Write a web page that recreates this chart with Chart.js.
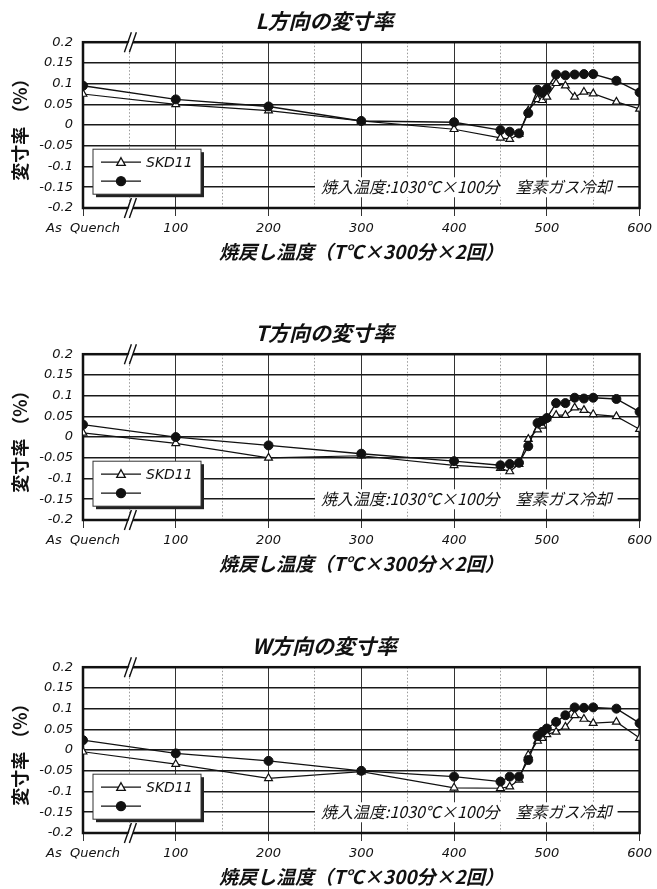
<!DOCTYPE html>
<html>
<head>
<meta charset="utf-8">
<script src="https://cdn.jsdelivr.net/npm/chart.js@4.4.1/dist/chart.umd.min.js"></script>
<style>
  html, body { margin: 0; padding: 0; background: #fff; width: 657px; height: 889px; overflow: hidden; }
  .panel { position: absolute; left: 0; width: 657px; height: 270px; }
</style>
</head>
<body>
<div class="panel" style="top:0px"><canvas id="chartL" width="657" height="270"></canvas></div>
<div class="panel" style="top:312px"><canvas id="chartT" width="657" height="270"></canvas></div>
<div class="panel" style="top:625px"><canvas id="chartW" width="657" height="270"></canvas></div>
<script>
// tempering temperature (0 = As Quench)
const temps = [0, 100, 200, 300, 400, 450, 460, 470, 480, 490, 495, 500, 510, 520, 530, 540, 550, 575, 600];

const lSkd11 = [0.075, 0.05, 0.035, 0.01, -0.01, -0.031, -0.034, -0.022, 0.035, 0.062, 0.06, 0.068, 0.101, 0.095, 0.068, 0.08, 0.076, 0.056, 0.039];
const lOther = [0.095, 0.062, 0.045, 0.01, 0.007, -0.012, -0.016, -0.02, 0.029, 0.085, 0.078, 0.088, 0.122, 0.12, 0.122, 0.123, 0.123, 0.107, 0.079];

const tSkd11 = [0.01, -0.015, -0.05, -0.045, -0.068, -0.075, -0.083, -0.065, -0.005, 0.018, 0.027, 0.045, 0.053, 0.053, 0.071, 0.065, 0.055, 0.05, 0.019];
const tOther = [0.03, 0, -0.02, -0.04, -0.058, -0.068, -0.065, -0.062, -0.022, 0.034, 0.039, 0.046, 0.082, 0.082, 0.095, 0.093, 0.095, 0.092, 0.061];

const wSkd11 = [-0.004, -0.034, -0.068, -0.052, -0.091, -0.092, -0.088, -0.072, -0.012, 0.022, 0.029, 0.038, 0.044, 0.056, 0.084, 0.075, 0.065, 0.068, 0.029];
const wOther = [0.024, -0.008, -0.026, -0.05, -0.064, -0.076, -0.064, -0.064, -0.024, 0.034, 0.044, 0.052, 0.068, 0.084, 0.103, 0.102, 0.103, 0.1, 0.065];

const titles = ['L方向の変寸率', 'T方向の変寸率', 'W方向の変寸率'];
const seriesLabels = ['SKD11', ''];
const xTickValues = [0, 100, 200, 300, 400, 500, 600];
const xTickLabels = ['As  Quench', '100', '200', '300', '400', '500', '600'];
const yMin = -0.2, yMax = 0.2, yStep = 0.05;
const xTitle = '焼戻し温度（T℃×300分×2回）';
const yTitle = '変寸率 （%）';
const noteText = '焼入温度:1030℃×100分　窒素ガス冷却';

Chart.defaults.color = '#111';
Chart.defaults.animation = false;

const latin = "'DejaVu Sans', sans-serif";
const jp = "'Noto Sans CJK JP', sans-serif";

function markerPath(ctx, style, x, y, r) {
    ctx.beginPath();
    if (style === 'triangle') {
        ctx.moveTo(x, y - r);
        ctx.lineTo(x + r * 0.95, y + r * 0.7);
        ctx.lineTo(x - r * 0.95, y + r * 0.7);
        ctx.closePath();
    } else {
        ctx.arc(x, y, r, 0, Math.PI * 2);
    }
}

const decor = {
    id: 'decor',
    beforeDatasetsDraw(chart) {
        const { ctx, chartArea: a } = chart;
        ctx.save();
        ctx.strokeStyle = '#111';
        ctx.lineWidth = 2.5;
        ctx.strokeRect(a.left, a.top, a.right - a.left, a.bottom - a.top);
        ctx.restore();
    },
    afterDatasetsDraw(chart) {
        const { ctx, chartArea: a, scales } = chart;
        ctx.save();
        // note on the -0.15 line
        const ny = scales.y.getPixelForValue(-0.15);
        ctx.font = 'italic 16px ' + jp;
        const tw = ctx.measureText(noteText).width;
        const tx = a.right - 28 - tw;
        ctx.fillStyle = '#fff';
        ctx.fillRect(tx - 6, ny - 10, tw + 12, 20);
        ctx.fillStyle = '#111';
        ctx.textBaseline = 'middle';
        ctx.fillText(noteText, tx, ny);

        // legend box
        const bx = a.left + 10, by = a.top + 107, bw = 108, bh = 45;
        ctx.fillStyle = '#222';
        ctx.fillRect(bx + 3, by + 3, bw, bh);
        ctx.fillStyle = '#fff';
        ctx.fillRect(bx, by, bw, bh);
        ctx.strokeStyle = '#333';
        ctx.lineWidth = 1;
        ctx.strokeRect(bx, by, bw, bh);
        chart.data.datasets.forEach((ds, i) => {
            const ry = by + 13 + i * 19;
            ctx.strokeStyle = '#111';
            ctx.lineWidth = 1.3;
            ctx.beginPath();
            ctx.moveTo(bx + 8, ry);
            ctx.lineTo(bx + 48, ry);
            ctx.stroke();
            markerPath(ctx, ds.pointStyle, bx + 28, ry, ds.pointRadius);
            ctx.fillStyle = ds.pointBackgroundColor;
            ctx.fill();
            ctx.stroke();
            ctx.fillStyle = '#111';
            ctx.font = 'italic 14px ' + latin;
            ctx.fillText(ds.label, bx + 53, ry + 1);
        });
        ctx.restore();
    },
    afterDraw(chart) {
        const { ctx, chartArea: a, scales } = chart;
        const px = scales.x.getPixelForValue(50);
        ctx.save();
        [a.top, a.bottom].forEach(y0 => {
            ctx.fillStyle = '#fff';
            ctx.beginPath();
            ctx.moveTo(px - 3, y0 + 5);
            ctx.lineTo(px + 2, y0 - 5);
            ctx.lineTo(px + 6, y0 - 5);
            ctx.lineTo(px + 1, y0 + 5);
            ctx.closePath();
            ctx.fill();
            ctx.strokeStyle = '#111';
            ctx.lineWidth = 1.4;
            ctx.beginPath();
            ctx.moveTo(px - 5, y0 + 10);
            ctx.lineTo(px + 2, y0 - 10);
            ctx.moveTo(px, y0 + 10);
            ctx.lineTo(px + 7, y0 - 10);
            ctx.stroke();
        });
        ctx.restore();
    }
};

function makeChart(id, title, skd, other) {
    const ctx = document.getElementById(id).getContext('2d');
    return new Chart(ctx, {
        type: 'line',
        data: {
            labels: temps,
            datasets: [
                {
                    label: seriesLabels[0],
                    data: temps.map((t, i) => ({ x: t, y: skd[i] })),
                    borderColor: '#111',
                    borderWidth: 1.2,
                    pointStyle: 'triangle',
                    pointRadius: 4.5,
                    pointBackgroundColor: '#fff',
                    pointBorderColor: '#111',
                    pointBorderWidth: 1.2,
                    tension: 0,
                    order: 2,
                },
                {
                    label: seriesLabels[1],
                    data: temps.map((t, i) => ({ x: t, y: other[i] })),
                    borderColor: '#111',
                    borderWidth: 1.4,
                    pointStyle: 'circle',
                    pointRadius: 4.5,
                    pointBackgroundColor: '#111',
                    pointBorderColor: '#111',
                    pointBorderWidth: 1,
                    tension: 0,
                    order: 1,
                },
            ],
        },
        options: {
            responsive: false,
            layout: { padding: { left: 0, right: 8, top: 0, bottom: 0 } },
            plugins: {
                legend: { display: false },
                tooltip: { enabled: false },
                title: {
                    display: true,
                    text: title,
                    color: '#111',
                    font: { family: jp, size: 21, weight: 'bold', style: 'italic' },
                    padding: { top: 8, bottom: 9 },
                },
            },
            scales: {
                x: {
                    type: 'linear',
                    min: 0,
                    max: 600,
                    afterFit: s => { s.height = 62; },
                    ticks: {
                        stepSize: 50,
                        autoSkip: false,
                        maxRotation: 0,
                        padding: 5,
                        color: '#111',
                        font: { family: latin, size: 13, style: 'italic' },
                        callback: v => {
                            const i = xTickValues.indexOf(v);
                            return i >= 0 ? xTickLabels[i] : '';
                        },
                    },
                    grid: {
                        color: c => (c.tick && c.tick.value % 100 === 0 ? '#333' : '#9a9a9a'),
                        lineWidth: 1,
                        tickLength: 8,
                        tickColor: c => (c.tick && c.tick.value % 100 === 0 ? '#333' : 'rgba(0,0,0,0)'),
                    },
                    border: {
                        display: false,
                        dash: c => (c.tick && c.tick.value % 100 !== 0 ? [1.5, 2] : []),
                    },
                    title: {
                        display: true,
                        text: xTitle,
                        color: '#111',
                        font: { family: jp, size: 19, weight: 'bold', style: 'italic' },
                        padding: { top: 0, bottom: 7 },
                    },
                },
                y: {
                    min: yMin,
                    max: yMax,
                    afterFit: s => { s.width = 83; },
                    ticks: {
                        stepSize: yStep,
                        padding: 10,
                        color: '#111',
                        font: { family: latin, size: 13, style: 'italic' },
                        callback: v => String(Math.round(v * 100) / 100),
                    },
                    grid: { color: '#1a1a1a', lineWidth: 1.6, drawTicks: false },
                    border: { display: false },
                    title: {
                        display: true,
                        text: yTitle,
                        color: '#111',
                        font: { family: jp, size: 18, weight: 'bold' },
                        padding: { top: 9, bottom: 0 },
                    },
                },
            },
        },
        plugins: [decor],
    });
}

makeChart('chartL', titles[0], lSkd11, lOther);
makeChart('chartT', titles[1], tSkd11, tOther);
makeChart('chartW', titles[2], wSkd11, wOther);
</script>
</body>
</html>
